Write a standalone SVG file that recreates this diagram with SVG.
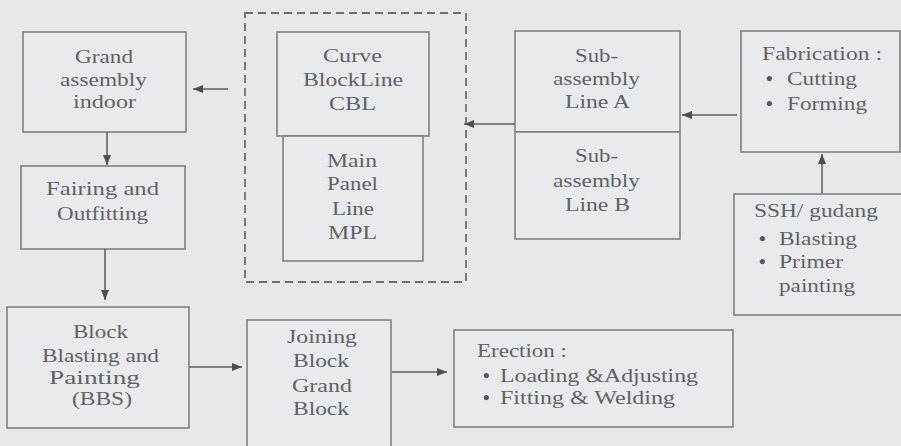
<svg xmlns="http://www.w3.org/2000/svg" width="901" height="446" viewBox="0 0 901 446">
<defs>
<style>
.bg{fill:#e7e8eb}
.box{fill:#e9eaed;stroke:#7f8082;stroke-width:1.6}
.dash{fill:none;stroke:#6f7072;stroke-width:1.8;stroke-dasharray:8 5}
.t{font-family:"Liberation Serif","Times New Roman",serif;font-size:19px;fill:#616266}
.b{font-family:"Liberation Serif","Times New Roman",serif;font-size:19px;font-weight:bold;fill:#55565a}
.ln{stroke:#5e5f62;stroke-width:1.6;fill:none}
</style>
<marker id="ah" viewBox="0 0 10 8" refX="10" refY="4" markerWidth="10" markerHeight="8" markerUnits="userSpaceOnUse" orient="auto">
<path d="M0,0 L10,4 L0,8 Z" fill="#4e4f52"/>
</marker>
</defs>
<rect class="bg" x="0" y="0" width="901" height="446"/>

<g id="grand-assembly">
<rect class="box" x="23" y="32" width="163" height="100"/>
<text class="t" x="75" y="63" textLength="58" lengthAdjust="spacingAndGlyphs">Grand</text>
<text class="t" x="60" y="86" textLength="87" lengthAdjust="spacingAndGlyphs">assembly</text>
<text class="t" x="73" y="108" textLength="63" lengthAdjust="spacingAndGlyphs">indoor</text>
</g>

<g id="fairing">
<rect class="box" x="21" y="166" width="164" height="83"/>
<text class="t" x="46" y="195" textLength="113" lengthAdjust="spacingAndGlyphs">Fairing  and</text>
<text class="t" x="57" y="220" textLength="91" lengthAdjust="spacingAndGlyphs">Outfitting</text>
</g>

<g id="bbs">
<rect class="box" x="7" y="307" width="182" height="121"/>
<text class="t" x="73" y="338" textLength="55" lengthAdjust="spacingAndGlyphs">Block</text>
<text class="t" x="42" y="362" textLength="117" lengthAdjust="spacingAndGlyphs">Blasting and</text>
<text class="t" x="49" y="384" textLength="91" lengthAdjust="spacingAndGlyphs">Painting</text>
<text class="t" x="72" y="405" textLength="60" lengthAdjust="spacingAndGlyphs">(BBS)</text>
</g>

<g id="dashed-group">
<rect class="dash" x="245" y="13" width="221" height="269"/>
</g>

<g id="cbl">
<rect class="box" x="277" y="32" width="152" height="104"/>
<text class="t" x="323" y="62" textLength="59" lengthAdjust="spacingAndGlyphs">Curve</text>
<text class="t" x="303" y="86" textLength="100" lengthAdjust="spacingAndGlyphs">BlockLine</text>
<text class="t" x="329" y="110" textLength="47" lengthAdjust="spacingAndGlyphs">CBL</text>
</g>

<g id="mpl">
<rect class="box" x="283" y="136" width="140" height="125"/>
<text class="t" x="327" y="167" textLength="50" lengthAdjust="spacingAndGlyphs">Main</text>
<text class="t" x="327" y="190" textLength="51" lengthAdjust="spacingAndGlyphs">Panel</text>
<text class="t" x="332" y="215" textLength="42" lengthAdjust="spacingAndGlyphs">Line</text>
<text class="t" x="328" y="239" textLength="49" lengthAdjust="spacingAndGlyphs">MPL</text>
</g>

<g id="sub-a">
<rect class="box" x="515" y="31" width="165" height="101"/>
<text class="t" x="575" y="62" textLength="43" lengthAdjust="spacingAndGlyphs">Sub-</text>
<text class="t" x="553" y="85" textLength="87" lengthAdjust="spacingAndGlyphs">assembly</text>
<text class="t" x="565" y="108" textLength="65" lengthAdjust="spacingAndGlyphs">Line A</text>
</g>

<g id="sub-b">
<rect class="box" x="515" y="132" width="165" height="107"/>
<text class="t" x="575" y="162" textLength="43" lengthAdjust="spacingAndGlyphs">Sub-</text>
<text class="t" x="553" y="187" textLength="87" lengthAdjust="spacingAndGlyphs">assembly</text>
<text class="t" x="565" y="211" textLength="65" lengthAdjust="spacingAndGlyphs">Line B</text>
</g>

<g id="fabrication">
<rect class="box" x="741" y="31" width="159" height="121"/>
<text class="t" x="762" y="60" textLength="120" lengthAdjust="spacingAndGlyphs">Fabrication :</text>
<text class="b" x="766" y="85">•</text>
<text class="t" x="787" y="85" textLength="70" lengthAdjust="spacingAndGlyphs">Cutting</text>
<text class="b" x="766" y="110">•</text>
<text class="t" x="787" y="110" textLength="80" lengthAdjust="spacingAndGlyphs">Forming</text>
</g>

<g id="ssh">
<rect class="box" x="734" y="194" width="172" height="121"/>
<text class="t" x="754" y="217" textLength="124" lengthAdjust="spacingAndGlyphs">SSH/ gudang</text>
<text class="b" x="759" y="245">•</text>
<text class="t" x="779" y="245" textLength="78" lengthAdjust="spacingAndGlyphs">Blasting</text>
<text class="b" x="759" y="268">•</text>
<text class="t" x="779" y="268" textLength="64" lengthAdjust="spacingAndGlyphs">Primer</text>
<text class="t" x="779" y="292" textLength="76" lengthAdjust="spacingAndGlyphs">painting</text>
</g>

<g id="joining">
<rect class="box" x="247" y="320" width="144" height="140"/>
<text class="t" x="287" y="343" textLength="70" lengthAdjust="spacingAndGlyphs">Joining</text>
<text class="t" x="293" y="367" textLength="56" lengthAdjust="spacingAndGlyphs">Block</text>
<text class="t" x="292" y="392" textLength="60" lengthAdjust="spacingAndGlyphs">Grand</text>
<text class="t" x="293" y="415" textLength="56" lengthAdjust="spacingAndGlyphs">Block</text>
</g>

<g id="erection">
<rect class="box" x="454" y="330" width="279" height="97"/>
<text class="t" x="477" y="357" textLength="90" lengthAdjust="spacingAndGlyphs">Erection :</text>
<text class="b" x="483" y="382">•</text>
<text class="t" x="500" y="382" textLength="198" lengthAdjust="spacingAndGlyphs">Loading &amp;Adjusting</text>
<text class="b" x="483" y="404">•</text>
<text class="t" x="500" y="404" textLength="175" lengthAdjust="spacingAndGlyphs">Fitting &amp; Welding</text>
</g>

<g id="connectors">
<line class="ln" x1="228" y1="89" x2="193" y2="89" marker-end="url(#ah)"/>
<line class="ln" x1="107" y1="132" x2="107" y2="165" marker-end="url(#ah)"/>
<line class="ln" x1="105" y1="249" x2="105" y2="300" marker-end="url(#ah)"/>
<line class="ln" x1="189" y1="367" x2="242" y2="367" marker-end="url(#ah)"/>
<line class="ln" x1="392" y1="372" x2="447" y2="372" marker-end="url(#ah)"/>
<line class="ln" x1="515" y1="124" x2="464" y2="124" marker-end="url(#ah)"/>
<line class="ln" x1="737" y1="115" x2="682" y2="115" marker-end="url(#ah)"/>
<line class="ln" x1="822" y1="193" x2="822" y2="154" marker-end="url(#ah)"/>
</g>
</svg>
